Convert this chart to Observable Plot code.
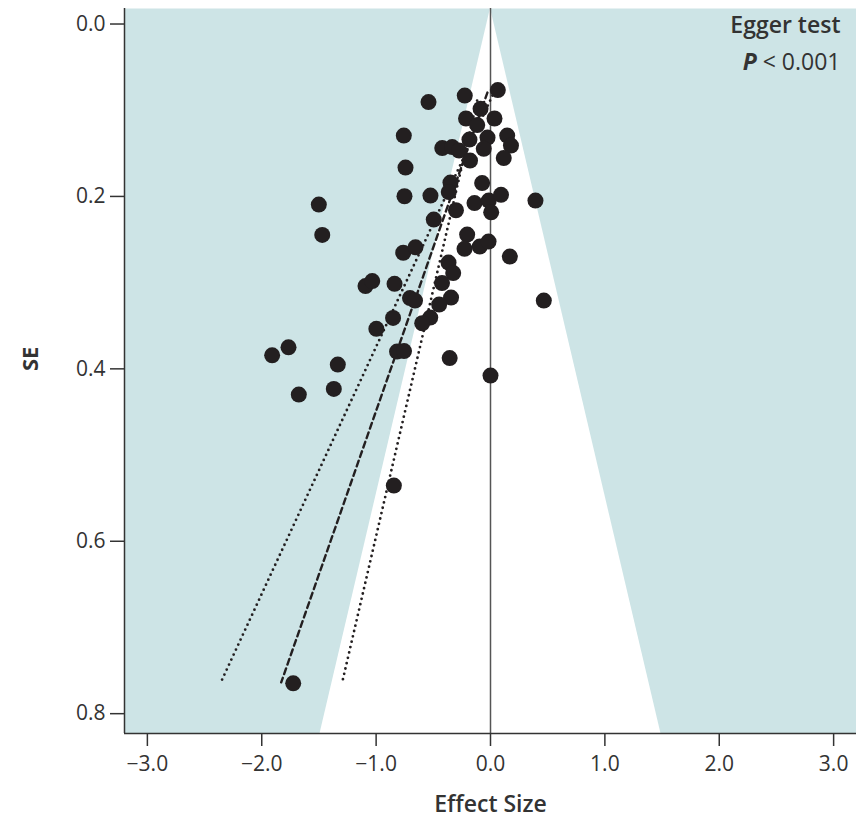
<!DOCTYPE html>
<html>
<head>
<meta charset="utf-8">
<script src="https://cdn.jsdelivr.net/npm/d3@7"></script>
<script src="https://cdn.jsdelivr.net/npm/@observablehq/plot@0.6"></script>
<style>
  body { margin: 0; background: #fff; }
</style>
</head>
<body>
<div id="chart"></div>
<script>
// Study effect sizes and standard errors
const effectSize = [
  -0.542, -0.225, 0.064, -0.087, -0.214, 0.035, -0.116, -0.026, -0.184, 0.146,
  0.179, -0.422, -0.335, -0.275, -0.059, 0.116, -0.179, -0.758, -0.743, -0.350,
  -0.365, -0.073, -0.752, -0.525, -0.140, -0.015, 0.092, 0.393, 0.006, -0.302,
  -0.496, -1.501, -1.471, -0.204, -0.227, -0.094, -0.017, 0.169, -0.763, -0.656,
  -0.367, -0.326, -1.093, -1.034, -0.839, -0.424, -0.704, -0.660, -0.345, -0.449,
  -0.527, -0.597, 0.466, -0.998, -0.852, -0.817, -0.756, -1.909, -1.766, -1.335,
  -1.370, -1.676, -0.357, 0.000, -0.845, -1.725
];
const standardError = [
  0.0905, 0.0830, 0.0766, 0.0984, 0.1096, 0.1096, 0.1172, 0.1317, 0.1340, 0.1294,
  0.1410, 0.1439, 0.1427, 0.1468, 0.1448, 0.1555, 0.1584, 0.1294, 0.1665, 0.1839,
  0.1949, 0.1845, 0.1998, 0.1990, 0.2077, 0.2048, 0.1981, 0.2048, 0.2184, 0.2160,
  0.2268, 0.2094, 0.2446, 0.2442, 0.2608, 0.2582, 0.2524, 0.2698, 0.2653, 0.2590,
  0.2767, 0.2889, 0.3040, 0.2982, 0.3014, 0.3005, 0.3179, 0.3208, 0.3173, 0.3254,
  0.3405, 0.3471, 0.3208, 0.3536, 0.3409, 0.3800, 0.3794, 0.3843, 0.3750, 0.3950,
  0.4233, 0.4299, 0.3875, 0.4078, 0.5354, 0.7648
];

// Funnel (pseudo 95% region) boundaries
const funnelSE = [-0.018, 0.823];
const funnelHalfWidth = [0, 1.49];

// Egger regression line and its confidence lines
const eggerSE = [0.0795, 0.7637];
const eggerX = [-0.027, -1.830];
const lowerSE = [0.0772, 0.7628];
const lowerX = [0.037, -2.355];
const upperSE = [0.0888, 0.7605];
const upperX = [-0.117, -1.291];

const xTicks = [-3, -2, -1, 0, 1, 2, 3];
const yTicks = [0, 0.2, 0.4, 0.6, 0.8];
const xDomain = [-3.2, 3.2];
const yDomain = [-0.018, 0.823];

const studies = effectSize.map((x, i) => ({x, se: standardError[i]}));
const funnel = funnelSE.map((se, i) => ({se, lo: -funnelHalfWidth[i], hi: funnelHalfWidth[i]}));
const toLine = (xs, ses) => xs.map((x, i) => ({x, se: ses[i]}));

const ink = "#231f20";
const axisColor = "#333";

const plot = Plot.plot({
  width: 856,
  height: 819,
  marginLeft: 124,
  marginRight: 0,
  marginTop: 8,
  marginBottom: 86,
  style: {fontFamily: "'Open Sans', sans-serif", fontSize: "21px", color: axisColor, background: "#fff", overflow: "visible"},
  x: {domain: xDomain},
  y: {domain: yDomain, reverse: true},
  marks: [
    Plot.frame({fill: "#cde4e6", stroke: null}),
    Plot.areaX(funnel, {y: "se", x1: "lo", x2: "hi", fill: "#fff"}),
    Plot.ruleX([0], {stroke: "#555", strokeWidth: 1.5}),
    Plot.line(toLine(lowerX, lowerSE), {x: "x", y: "se", stroke: ink, strokeWidth: 2.8, strokeDasharray: "0,5.5", strokeLinecap: "round"}),
    Plot.line(toLine(upperX, upperSE), {x: "x", y: "se", stroke: ink, strokeWidth: 2.8, strokeDasharray: "0,5.5", strokeLinecap: "round"}),
    Plot.line(toLine(eggerX, eggerSE), {x: "x", y: "se", stroke: ink, strokeWidth: 2.4, strokeDasharray: "6,4"}),
    Plot.dot(studies, {x: "x", y: "se", r: 8, fill: ink}),
    Plot.ruleX([xDomain[0]], {stroke: axisColor, strokeWidth: 1.5}),
    Plot.ruleY([yDomain[1]], {stroke: axisColor, strokeWidth: 1.5}),
    Plot.axisY({ticks: yTicks, tickFormat: d3.format(".1f"), tickSize: 14, tickPadding: 5, label: null, stroke: axisColor, strokeWidth: 1.5}),
    Plot.axisX({ticks: xTicks, tickFormat: d3.format(".1f"), tickSize: 13, tickPadding: 10, label: null, stroke: axisColor, strokeWidth: 1.5}),
    Plot.text(["SE"], {frameAnchor: "left", dx: -94, rotate: -90, fontWeight: 700, fontSize: 22}),
    Plot.text(["Effect Size"], {frameAnchor: "bottom", dy: 78, fontWeight: 600, fontSize: 23}),
    Plot.text(["Egger test"], {frameAnchor: "top-right", textAnchor: "end", dx: -16, dy: 8, fontWeight: 600, fontSize: 23}),
    Plot.text(["P < 0.001"], {frameAnchor: "top-right", textAnchor: "end", dx: -16, dy: 45, fontSize: 23})
  ]
});

document.getElementById("chart").appendChild(plot);

// Italic bold "P" in the Egger test annotation
d3.select(plot).selectAll("text").filter(function () { return this.textContent === "P < 0.001"; })
  .each(function () {
    const t = d3.select(this);
    t.text(null);
    t.append("tspan").attr("font-weight", 700).attr("font-style", "italic").text("P");
    t.append("tspan").text(" < 0.001");
  });
</script>
</body>
</html>
